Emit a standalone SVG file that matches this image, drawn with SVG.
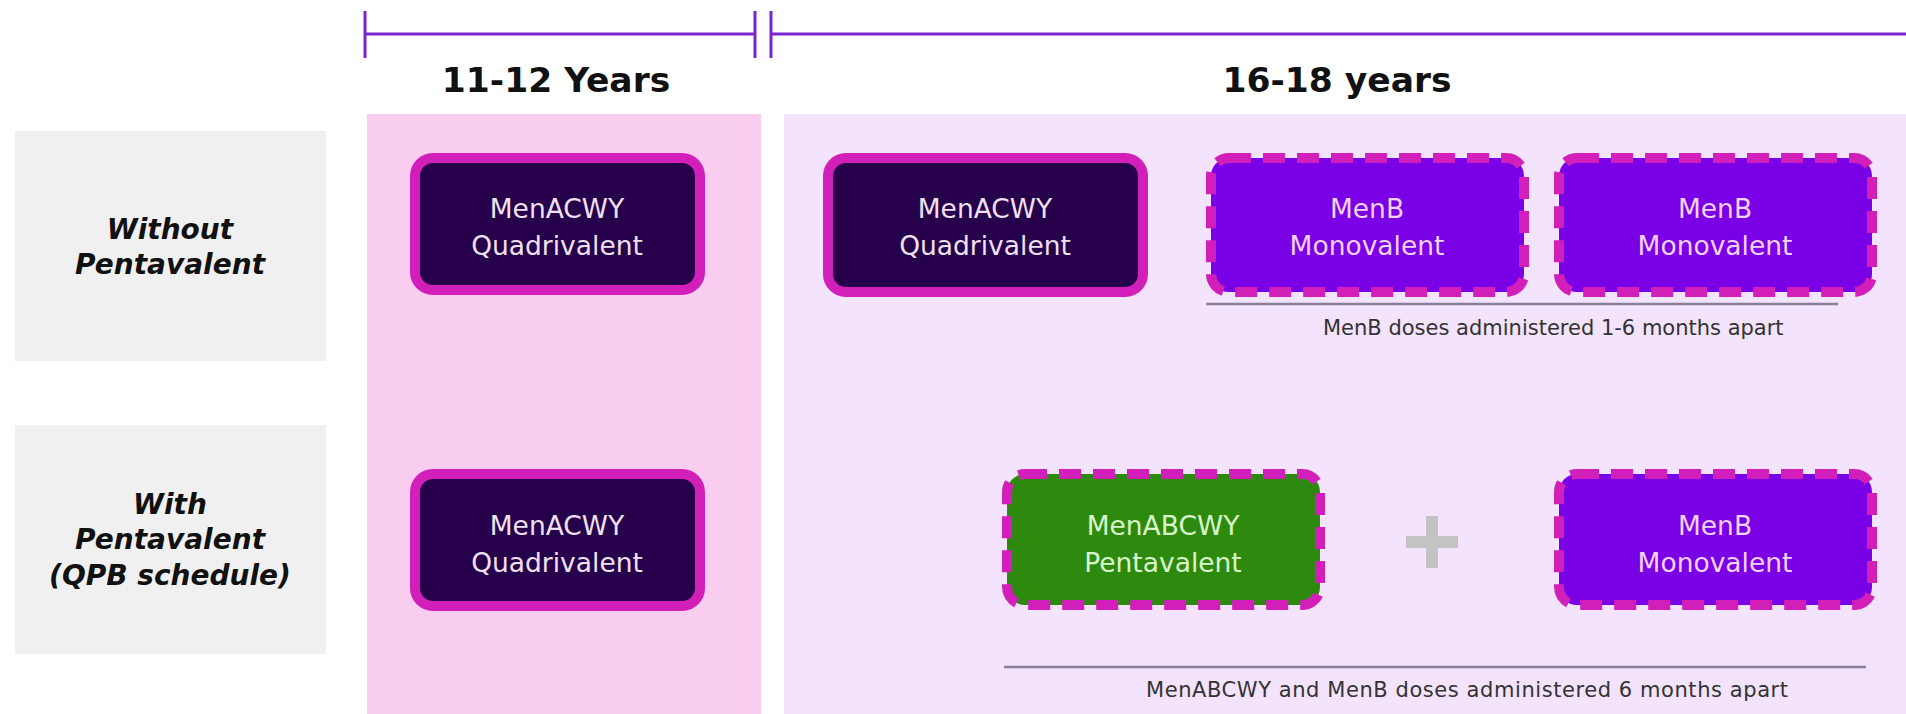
<svg xmlns="http://www.w3.org/2000/svg" width="1906" height="714" viewBox="0 0 1906 714">
<style>
.tl{stroke:#7a24cf;stroke-width:3;fill:none}
.hdr{font-family:"DejaVu Sans",Verdana,sans-serif;font-weight:bold;font-size:34.5px;fill:#111;text-anchor:middle}
.rowbox{fill:#f0f0f0}
.rowlbl{font-family:"DejaVu Sans",Verdana,sans-serif;font-weight:bold;font-style:italic;font-size:28px;fill:#111;text-anchor:middle}
.quad{fill:#26004a;stroke:#d21fb9;stroke-width:10}
.menb{fill:#7a00e6;stroke:#d21fb9;stroke-width:10;stroke-dasharray:22 12}
.penta{fill:#2e8a0e;stroke:#d21fb9;stroke-width:10;stroke-dasharray:22 12}
.nt{font-family:"DejaVu Sans",Verdana,sans-serif;font-size:26.5px;text-anchor:middle}
.sep{stroke:#8a7f98;stroke-width:2.5}
.note{font-family:"DejaVu Sans",Verdana,sans-serif;font-size:21px;fill:#333}
</style>
<rect width="1906" height="714" fill="#ffffff"/>
<g id="timeline">
<line class="tl" x1="365" y1="34" x2="755" y2="34"/>
<line class="tl" x1="365" y1="11" x2="365" y2="58"/>
<line class="tl" x1="755" y1="11" x2="755" y2="58"/>
<line class="tl" x1="771" y1="11" x2="771" y2="58"/>
<line class="tl" x1="771" y1="34" x2="1906" y2="34"/>
<text class="hdr" x="556" y="92">11-12 Years</text>
<text class="hdr" x="1337" y="92">16-18 years</text>
</g>
<g id="columns">
<rect x="367" y="114" width="394" height="600" fill="#f8cdf0"/>
<rect x="784" y="114" width="1122" height="600" fill="#f3e3fd"/>
</g>
<g id="row1-label">
<rect class="rowbox" x="15" y="131" width="311" height="230"/>
<text class="rowlbl" x="170" y="239">Without</text>
<text class="rowlbl" x="170" y="274">Pentavalent</text>
</g>
<g id="row2-label">
<rect class="rowbox" x="15" y="425" width="311" height="229"/>
<text class="rowlbl" x="170" y="514">With</text>
<text class="rowlbl" x="170" y="549">Pentavalent</text>
<text class="rowlbl" x="170" y="585">(QPB schedule)</text>
</g>
<g id="r1-quad-1112">
<rect class="quad" x="415" y="158" width="285" height="132" rx="18"/>
<text class="nt" x="557" y="218" fill="#efe0f2">MenACWY</text>
<text class="nt" x="557" y="255" fill="#efe0f2">Quadrivalent</text>
</g>
<g id="r1-quad-1618">
<rect class="quad" x="828" y="158" width="315" height="134" rx="18"/>
<text class="nt" x="985" y="218" fill="#efe0f2">MenACWY</text>
<text class="nt" x="985" y="255" fill="#efe0f2">Quadrivalent</text>
</g>
<g id="r1-menb-1">
<rect class="menb" x="1211" y="158" width="313" height="134" rx="18"/>
<text class="nt" x="1367" y="218" fill="#f5d2f7">MenB</text>
<text class="nt" x="1367" y="255" fill="#f5d2f7">Monovalent</text>
</g>
<g id="r1-menb-2">
<rect class="menb" x="1559" y="158" width="313" height="134" rx="18"/>
<text class="nt" x="1715" y="218" fill="#f5d2f7">MenB</text>
<text class="nt" x="1715" y="255" fill="#f5d2f7">Monovalent</text>
</g>
<g id="r1-note">
<line class="sep" x1="1206" y1="304" x2="1838" y2="304"/>
<text class="note" x="1323" y="335">MenB doses administered 1-6 months apart</text>
</g>
<g id="r2-quad-1112">
<rect class="quad" x="415" y="474" width="285" height="132" rx="18"/>
<text class="nt" x="557" y="535" fill="#efe0f2">MenACWY</text>
<text class="nt" x="557" y="572" fill="#efe0f2">Quadrivalent</text>
</g>
<g id="r2-penta">
<rect class="penta" x="1007" y="474" width="313" height="131" rx="18"/>
<text class="nt" x="1163" y="535" fill="#d9f7cc">MenABCWY</text>
<text class="nt" x="1163" y="572" fill="#d9f7cc">Pentavalent</text>
</g>
<g id="plus">
<rect x="1406" y="536" width="52" height="12" fill="#c3c3c3"/>
<rect x="1426" y="516" width="12" height="52" fill="#c3c3c3"/>
</g>
<g id="r2-menb">
<rect class="menb" x="1559" y="474" width="313" height="131" rx="18"/>
<text class="nt" x="1715" y="535" fill="#f5d2f7">MenB</text>
<text class="nt" x="1715" y="572" fill="#f5d2f7">Monovalent</text>
</g>
<g id="r2-note">
<line class="sep" x1="1004" y1="667" x2="1866" y2="667"/>
<text class="note" x="1146" y="697" textLength="642" lengthAdjust="spacing">MenABCWY and MenB doses administered 6 months apart</text>
</g>
<g id="connectors"></g>
</svg>
